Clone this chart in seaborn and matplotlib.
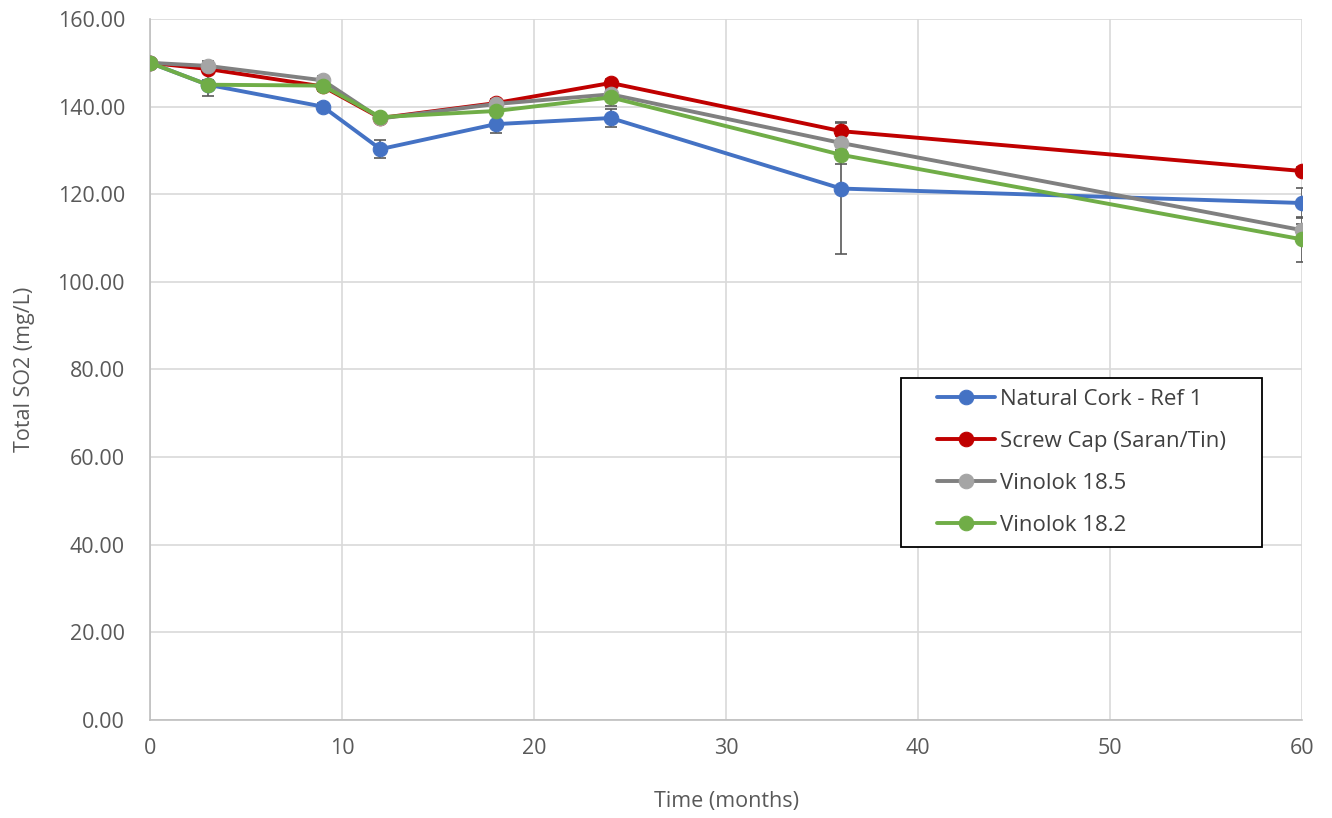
import matplotlib
matplotlib.use("Agg")
import matplotlib.pyplot as plt
from matplotlib.patches import Rectangle
import seaborn as sns
import pandas as pd
import numpy as np

months = [0, 3, 9, 12, 18, 24, 36, 60]
series_names = ["Natural Cork - Ref 1", "Screw Cap (Saran/Tin)", "Vinolok 18.5", "Vinolok 18.2"]
natural_cork = [150.0, 145.0, 140.0, 130.3, 136.0, 137.4, 121.3, 118.0]
screw_cap = [150.0, 148.6, 144.6, 137.4, 140.8, 145.4, 134.4, 125.3]
vinolok_185 = [150.0, 149.3, 146.0, 137.3, 140.6, 142.8, 131.7, 111.8]
vinolok_182 = [150.0, 145.0, 144.8, 137.6, 139.0, 142.1, 129.0, 109.7]
err_natural_cork = [0.0, 1.0, 0.8, 2.0, 2.0, 2.1, 15.0, 3.5]
err_screw_cap = [0.0, 1.0, 1.0, 0.8, 1.0, 1.0, 2.0, 1.0]
err_vinolok_185 = [0.0, 1.0, 1.0, 0.8, 1.2, 1.0, 1.5, 1.5]
err_vinolok_182 = [0.0, 2.6, 1.0, 0.8, 1.0, 2.0, 2.0, 5.2]

line_colors = ["#4472C4", "#C00000", "#808080", "#70AD47"]
marker_colors = ["#4472C4", "#C00000", "#A5A5A5", "#70AD47"]

values = [natural_cork, screw_cap, vinolok_185, vinolok_182]
errors = [err_natural_cork, err_screw_cap, err_vinolok_185, err_vinolok_182]

df = pd.DataFrame({
    "Time": np.tile(months, 4),
    "SO2": np.concatenate(values),
    "Series": np.repeat(series_names, len(months)),
})

sns.set_theme(style="white")
plt.rcParams['font.family'] = ['Open Sans', 'DejaVu Sans']

fig = plt.figure(figsize=(13.32, 8.18), dpi=100)
ax = fig.add_axes([150/1332, 1-720/818, (1302-150)/1332, (720-19)/818])

for v, e in zip(values, errors):
    ax.errorbar(months, v, yerr=e, fmt='none', ecolor="#595959", elinewidth=1.2,
                capsize=4.5, capthick=1.2, zorder=1)

for i, name in enumerate(series_names):
    sub = df[df["Series"] == name]
    sns.lineplot(data=sub, x="Time", y="SO2", ax=ax, color=line_colors[i],
                 marker="o", markersize=10.5, markerfacecolor=marker_colors[i],
                 markeredgecolor=marker_colors[i], linewidth=2.8, label=name,
                 zorder=3 + i, errorbar=None)

ax.set_xlim(0, 60)
ax.set_ylim(0, 160)
ax.set_xticks(range(0, 61, 10))
ax.set_yticks(range(0, 161, 20))
ax.set_yticklabels([f"{t:.2f}" for t in range(0, 161, 20)])
ax.grid(True, color="#D9D9D9", linewidth=1.2)
ax.set_axisbelow(True)
for s in ["top", "right"]:
    ax.spines[s].set_visible(False)
for s in ["left", "bottom"]:
    ax.spines[s].set_color("#BFBFBF")
    ax.spines[s].set_linewidth(1.2)
ax.tick_params(axis="both", length=0, labelsize=15.5, colors="#595959")
ax.tick_params(axis="y", pad=18)
ax.tick_params(axis="x", pad=13)
ax.set_xlabel("Time (months)", fontsize=15.5, color="#595959", labelpad=23)
ax.set_ylabel("Total SO2 (mg/L)", fontsize=15.5, color="#595959", labelpad=16)

# legend frame (layout box)
x0, x1 = (901-150)/1152, (1262-150)/1152
y0, y1 = (720-547)/701, (720-378)/701
ax.add_patch(Rectangle((x0, y0), x1-x0, y1-y0, transform=ax.transAxes,
                       facecolor="white", edgecolor="black", linewidth=1.3, zorder=10))
leg = ax.legend(loc="center", bbox_to_anchor=((x0+x1)/2, (y0+y1)/2),
                frameon=False, fontsize=16, borderpad=0.2, labelspacing=0.94,
                handlelength=2.6, handletextpad=0.2, borderaxespad=0)
leg.set_zorder(11)
for t in leg.get_texts():
    t.set_color("#404040")

fig.savefig("out.png", dpi=100)
